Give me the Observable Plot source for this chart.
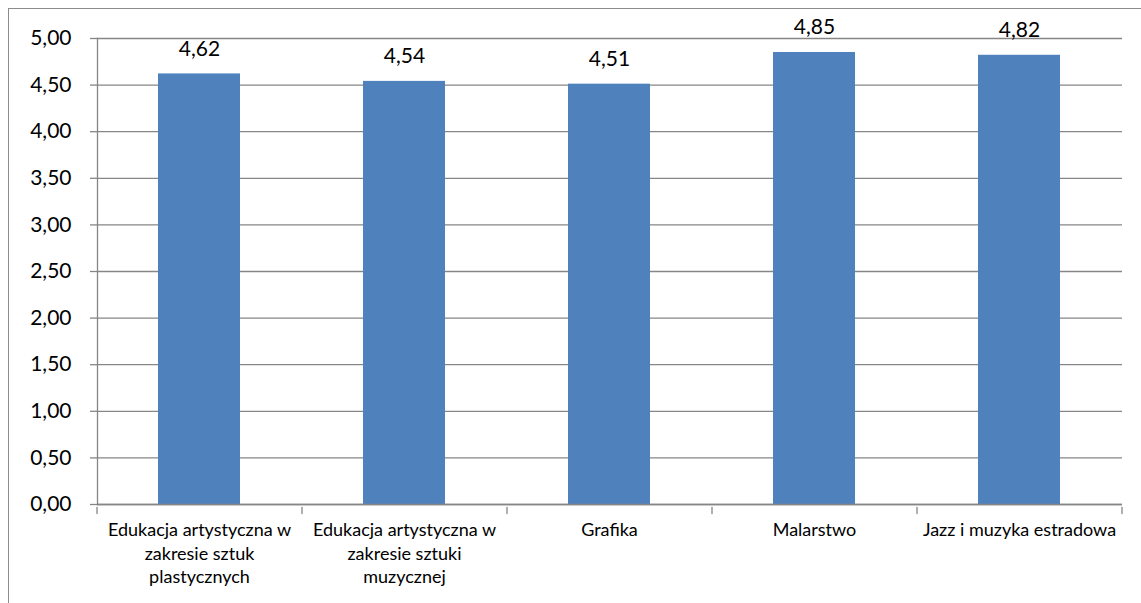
<!DOCTYPE html>
<html>
<head>
<meta charset="utf-8">
<script src="https://cdn.jsdelivr.net/npm/d3@7"></script>
<script src="https://cdn.jsdelivr.net/npm/@observablehq/plot@0.6"></script>
<style>
  html, body { margin: 0; padding: 0; background: #fff; }
  #wrap { position: relative; width: 1141px; height: 603px; overflow: hidden; }
  #border { position: absolute; left: 8px; top: 8px; width: 1200px; height: 700px;
            border-left: 1px solid #8c8c8c; border-top: 1px solid #8c8c8c; box-sizing: border-box; }
  #chart { position: absolute; left: 0; top: 0; }
</style>
</head>
<body>
<div id="wrap"><div id="border"></div><div id="chart"></div></div>
<script>
const categories = [
  "Edukacja artystyczna w zakresie sztuk plastycznych",
  "Edukacja artystyczna w zakresie sztuki muzycznej",
  "Grafika",
  "Malarstwo",
  "Jazz i muzyka estradowa"
];
const tickLabels = [
  "Edukacja artystyczna w\nzakresie sztuk\nplastycznych",
  "Edukacja artystyczna w\nzakresie sztuki\nmuzycznej",
  "Grafika",
  "Malarstwo",
  "Jazz i muzyka estradowa"
];
const values = [4.62, 4.54, 4.51, 4.85, 4.82];
const yTicks = [0, 0.5, 1, 1.5, 2, 2.5, 3, 3.5, 4, 4.5, 5];

const W = 1141, H = 603, ML = 97, MR = 19, MT = 38, MB = 99;
const step = (W - ML - MR) / categories.length;
const fmt = d => d.toFixed(2).replace(".", ",");
const data = categories.map((c, i) => ({cat: c, value: values[i], label: tickLabels[i]}));
const gridColor = "#868686";
const tickShape = {draw(ctx, l) { ctx.moveTo(0, 0); ctx.lineTo(0, l); }};

const chart = Plot.plot({
  width: W, height: H,
  marginLeft: ML, marginRight: MR, marginTop: MT, marginBottom: MB,
  style: {fontFamily: "Lato, sans-serif", color: "#000", background: "transparent"},
  x: {domain: categories, paddingInner: 0.6, paddingOuter: 0.3, axis: null},
  y: {domain: [0, 5], axis: null},
  marks: [
    Plot.gridY(yTicks, {stroke: gridColor, strokeOpacity: 1, strokeWidth: 1.3}),
    Plot.axisY(yTicks, {tickSize: 7, tickPadding: 19, tickFormat: fmt, fontSize: 21, label: null,
      stroke: gridColor, strokeOpacity: 1, strokeWidth: 1.3, fill: "#000"}),
    Plot.frame({anchor: "left", stroke: gridColor, strokeWidth: 1.3}),
    Plot.barY(data, {x: "cat", y: "value", fill: "#4F81BD"}),
    Plot.ruleY([0], {stroke: gridColor, strokeWidth: 1.3}),
    Plot.vector(categories, {x: d => d, y: 0, length: 6, dx: -step / 2, shape: tickShape,
      stroke: gridColor, strokeWidth: 1.3}),
    Plot.vector([categories[categories.length - 1]], {x: d => d, y: 0, length: 6, dx: step / 2,
      shape: tickShape, stroke: gridColor, strokeWidth: 1.3}),
    Plot.text(data, {x: "cat", y: "value", text: d => fmt(d.value), dy: -25, fontSize: 21, fill: "#000"}),
    Plot.text(data, {x: "cat", y: 0, text: "label", lineAnchor: "top", dy: 15, fontSize: 18,
      lineHeight: 1.31, fill: "#000"})
  ]
});
document.getElementById("chart").appendChild(chart);
</script>
</body>
</html>
